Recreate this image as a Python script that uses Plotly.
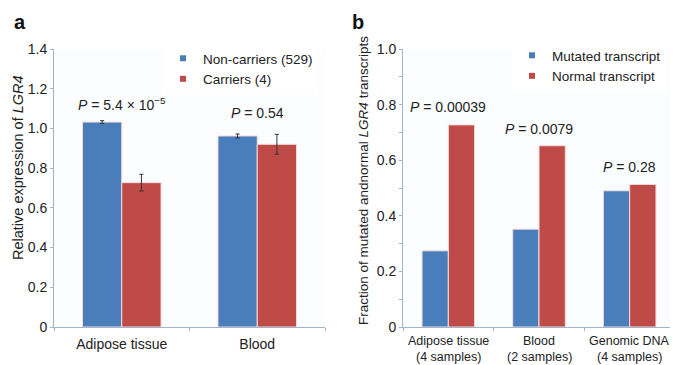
import plotly.graph_objects as go

# Panel a data
cats_a = ["Adipose tissue", "Blood"]
noncarriers = [1.032, 0.962]
noncarriers_err = [0.007, 0.010]
carriers = [0.727, 0.920]
carriers_err = [0.042, 0.050]
p_a = ["<i>P</i> = 5.4 × 10<sup>−5</sup>", "<i>P</i> = 0.54"]
p_a_y = [1.125, 1.078]

# Panel b data
cats_b = ["Adipose tissue", "Blood", "Genomic DNA"]
samples_b = ["(4 samples)", "(2 samples)", "(4 samples)"]
mutated = [0.274, 0.352, 0.490]
normal = [0.727, 0.652, 0.513]
p_b = ["<i>P</i> = 0.00039", "<i>P</i> = 0.0079", "<i>P</i> = 0.28"]
p_b_y = [0.79, 0.713, 0.577]

BLUE = "#4a7ebb"
RED = "#be4b48"
AX = "#9fb6cc"
FONT = "Liberation Sans, Arial, sans-serif"

# page has an 8px body margin: figure is 670x357, coordinates below are window pixels
W, H = 670, 357
def px(x):
    return (x - 8) / W
def py(y):
    return 1 - (y - 8) / H

fig = go.Figure()
fig.add_trace(go.Bar(x=cats_a, y=noncarriers, marker=dict(color=BLUE, line=dict(color="#f3dede", width=1)),
                     error_y=dict(type="data", array=noncarriers_err, color="#333", thickness=1, width=2),
                     xaxis="x", yaxis="y", showlegend=False))
fig.add_trace(go.Bar(x=cats_a, y=carriers, marker=dict(color=RED, line=dict(color="#f3dede", width=1)),
                     error_y=dict(type="data", array=carriers_err, color="#333", thickness=1, width=2),
                     xaxis="x", yaxis="y", showlegend=False))
fig.add_trace(go.Bar(x=cats_b, y=mutated, marker=dict(color=BLUE, line=dict(color="#f3dede", width=1)),
                     xaxis="x2", yaxis="y2", showlegend=False))
fig.add_trace(go.Bar(x=cats_b, y=normal, marker=dict(color=RED, line=dict(color="#f3dede", width=1)),
                     xaxis="x2", yaxis="y2", showlegend=False))

for name, col, lg in [("Non-carriers (529)", BLUE, "legend"), ("Carriers (4)", RED, "legend"),
                      ("Mutated transcript", BLUE, "legend2"), ("Normal transcript", RED, "legend2")]:
    xa, ya = ("x", "y") if lg == "legend" else ("x2", "y2")
    fig.add_trace(go.Scatter(x=[None], y=[None], mode="markers", name=name,
                             marker=dict(symbol="square", size=6, color=col),
                             xaxis=xa, yaxis=ya, legend=lg))

axis_common = dict(showline=True, linecolor=AX, linewidth=1, ticks="outside", tickcolor=AX,
                   ticklen=3, showgrid=False, zeroline=False, automargin=False,
                   tickfont=dict(family=FONT, size=14, color="#222"))

fig.update_layout(
    width=W, height=H,
    margin=dict(l=0, r=0, t=0, b=0, autoexpand=False),
    paper_bgcolor="white", plot_bgcolor="#fcfdfe",
    barmode="group", bargap=0.42, bargroupgap=0,
    font=dict(family=FONT, size=13, color="#222"),
    xaxis=dict(domain=[px(54), px(325)], anchor="y", tickson="boundaries", range=[-0.5, 1.5],
               tickangle=0, ticklabelstandoff=4, **axis_common),
    yaxis=dict(domain=[py(327), py(49)], anchor="x", range=[0, 1.4],
               tickvals=[0, 0.2, 0.4, 0.6, 0.8, 1.0, 1.2, 1.4],
               ticktext=["0", "0.2", "0.4", "0.6", "0.8", "1.0", "1.2", "1.4"], **axis_common),
    xaxis2=dict(domain=[px(403), px(675)], anchor="y2", tickson="boundaries", range=[-0.5, 2.5],
                showticklabels=False, **axis_common),
    yaxis2=dict(domain=[py(327), py(49)], anchor="x2", range=[0, 1.0],
                tickvals=[0, 0.2, 0.4, 0.6, 0.8, 1.0],
                ticktext=["0", "0.2", "0.4", "0.6", "0.8", "1.0"],
                minor=dict(dtick=0.1, ticks="outside", ticklen=3, tickcolor=AX), **axis_common),
    legend=dict(x=px(163), y=py(43), xanchor="left", yanchor="top", bgcolor="white",
                font=dict(family=FONT, size=13.5, color="#222"), itemwidth=30, tracegroupgap=0),
    legend2=dict(x=px(512), y=py(40), xanchor="left", yanchor="top", bgcolor="white",
                 font=dict(family=FONT, size=13.5, color="#222"), itemwidth=30, tracegroupgap=0),
)

anns = []
for c, t, yv in zip(cats_a, p_a, p_a_y):
    anns.append(dict(x=c, y=yv, xref="x", yref="y", text=t, showarrow=False,
                     font=dict(family=FONT, size=14, color="#222")))
for c, t, yv in zip(cats_b, p_b, p_b_y):
    anns.append(dict(x=c, y=yv, xref="x2", yref="y2", text=t, showarrow=False,
                     font=dict(family=FONT, size=14, color="#222")))
for c, s in zip(cats_b, samples_b):
    anns.append(dict(x=c, y=py(340.5), xref="x2", yref="paper", text=c, showarrow=False,
                     yanchor="middle", borderpad=0, font=dict(family=FONT, size=12.5, color="#222")))
    anns.append(dict(x=c, y=py(356.5), xref="x2", yref="paper", text=s, showarrow=False,
                     yanchor="middle", borderpad=0, font=dict(family=FONT, size=12.5, color="#222")))
anns += [
    dict(x=px(12), y=py(22), xref="paper", yref="paper", text="<b>a</b>", showarrow=False,
         xanchor="left", yanchor="middle", font=dict(family=FONT, size=20, color="#111")),
    dict(x=px(350), y=py(22), xref="paper", yref="paper", text="<b>b</b>", showarrow=False,
         xanchor="left", yanchor="middle", font=dict(family=FONT, size=20, color="#111")),
    dict(x=px(18), y=py(168), xref="paper", yref="paper", text="Relative expression of <i>LGR4</i>",
         showarrow=False, textangle=-90, xanchor="center", yanchor="middle",
         font=dict(family=FONT, size=14.5, color="#222")),
    dict(x=px(363), y=py(181), xref="paper", yref="paper",
         text="Fraction of mutated andnormal <i>LGR4</i> transcripts",
         showarrow=False, textangle=-90, xanchor="center", yanchor="middle",
         font=dict(family=FONT, size=13.5, color="#222")),
]
fig.update_layout(annotations=anns)

fig.write_html("out.html")
